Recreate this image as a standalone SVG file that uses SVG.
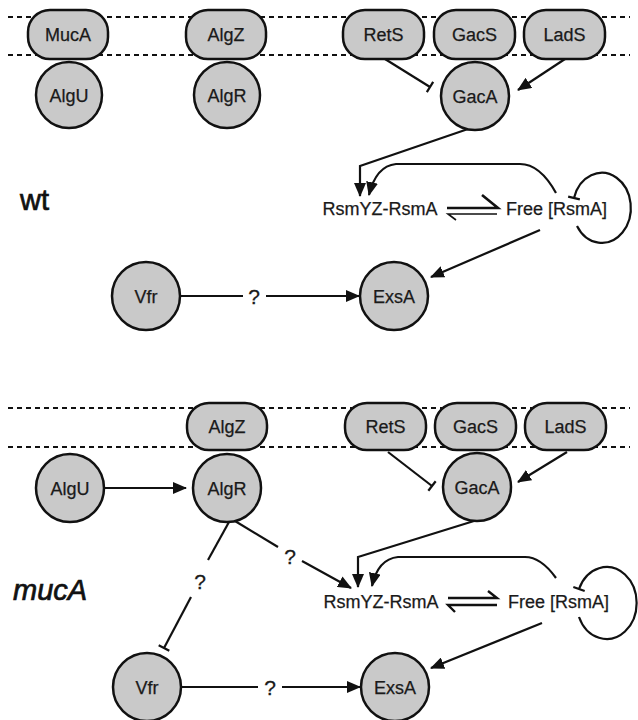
<svg xmlns="http://www.w3.org/2000/svg" width="638" height="720" viewBox="0 0 638 720">
<style>
.node{fill:#c9c9c9;stroke:#111;stroke-width:2.5}
.lbl{font-family:"Liberation Sans",Arial,sans-serif;font-size:18px;fill:#1a1a1a;stroke:#1a1a1a;stroke-width:0.25;text-anchor:middle}
.mem{fill:none;stroke:#111;stroke-width:2.2;stroke-dasharray:5 4}
.c{fill:none;stroke:#111;stroke-width:2.2}
.q{font-family:"Liberation Sans",Arial,sans-serif;font-size:21px;fill:#1a1a1a;stroke:#1a1a1a;stroke-width:0.3;text-anchor:middle}
.big{font-family:"Liberation Sans",Arial,sans-serif;font-size:29px;fill:#111;stroke:#111;stroke-width:0.7}
</style>
<defs>
<marker id="arr" markerUnits="userSpaceOnUse" markerWidth="14" markerHeight="12" viewBox="0 0 14 12" refX="13" refY="6" orient="auto">
<path d="M0,0 L14,6 L0,12 Z" fill="#111"/>
</marker>
<marker id="bar" markerUnits="userSpaceOnUse" markerWidth="4" markerHeight="14" viewBox="0 0 4 14" refX="2" refY="7" orient="auto">
<path d="M2,1 L2,13" stroke="#111" stroke-width="2.2"/>
</marker>
</defs>
<rect width="638" height="720" fill="#fff"/>

<g id="membranes">
<line class="mem" x1="8" y1="17" x2="630" y2="17"/>
<line class="mem" x1="8" y1="55" x2="630" y2="55"/>
<line class="mem" x1="8" y1="408" x2="630" y2="408"/>
<line class="mem" x1="8" y1="447" x2="630" y2="447"/>
</g>

<text class="big" x="20" y="210">wt</text>
<text class="big" x="13" y="600" font-style="italic">mucA</text>

<g id="connectors">
<line class="c" x1="385" y1="59" x2="430" y2="87" marker-end="url(#bar)"/>
<line class="c" x1="565" y1="59" x2="518" y2="90" marker-end="url(#arr)"/>
<polyline class="c" points="468,129 360,166 360,196" marker-end="url(#arr)"/>
<path class="c" d="M556,193 Q540,164 520,164 L396,164 Q376,166 369,195" marker-end="url(#arr)"/>
<path class="c" d="M577,226 A29 35 0 1 0 574,198" marker-end="url(#bar)"/>
<line class="c" x1="540" y1="230" x2="431" y2="277" marker-end="url(#arr)"/>
<line class="c" x1="180" y1="296" x2="243" y2="296"/>
<line class="c" x1="266" y1="296" x2="359" y2="296" marker-end="url(#arr)"/>
<path d="M447,208 L498,208 L482,195" fill="none" stroke="#111" stroke-width="2.6"/>
<path d="M456,220 L448,214 L497,214" fill="none" stroke="#111" stroke-width="1.6"/>
<line class="c" x1="104" y1="488" x2="186" y2="488" marker-end="url(#arr)"/>
<line class="c" x1="388" y1="452" x2="432" y2="486" marker-end="url(#bar)"/>
<line class="c" x1="567" y1="452" x2="518" y2="482" marker-end="url(#arr)"/>
<polyline class="c" points="474,521 358,557 358,587" marker-end="url(#arr)"/>
<path class="c" d="M556,578 Q541,557 525,557 L398,557 Q378,559 372,586" marker-end="url(#arr)"/>
<path class="c" d="M579,617 A30 36 0 1 0 579,589" marker-end="url(#bar)"/>
<line class="c" x1="542" y1="623" x2="431" y2="668" marker-end="url(#arr)"/>
<line class="c" x1="235" y1="521" x2="278" y2="547"/>
<line class="c" x1="302" y1="561" x2="351" y2="588" marker-end="url(#arr)"/>
<line class="c" x1="229" y1="522" x2="208" y2="560"/>
<line class="c" x1="191" y1="597" x2="164" y2="648" marker-end="url(#bar)"/>
<line class="c" x1="181" y1="687" x2="258" y2="687"/>
<line class="c" x1="282" y1="687" x2="360" y2="687" marker-end="url(#arr)"/>
<path d="M448,598 L497,598 L488,591" fill="none" stroke="#111" stroke-width="2.4"/>
<path d="M455,612 L448,605 L497,605" fill="none" stroke="#111" stroke-width="2.4"/>
<text class="q" x="254" y="304">?</text>
<text class="q" x="290" y="564">?</text>
<text class="q" x="200" y="589">?</text>
<text class="q" x="270" y="695">?</text>
</g>

<g id="top-MucA"><rect class="node" x="28" y="10" width="80" height="49" rx="22"/><text class="lbl" x="68" y="41">MucA</text></g>
<g id="top-AlgZ"><rect class="node" x="186" y="10" width="80" height="49" rx="22"/><text class="lbl" x="226" y="41">AlgZ</text></g>
<g id="top-RetS"><rect class="node" x="343" y="10" width="81" height="49" rx="22"/><text class="lbl" x="383.5" y="41">RetS</text></g>
<g id="top-GacS"><rect class="node" x="434" y="10" width="81" height="49" rx="22"/><text class="lbl" x="474.5" y="41">GacS</text></g>
<g id="top-LadS"><rect class="node" x="524" y="10" width="81" height="49" rx="22"/><text class="lbl" x="564.5" y="41">LadS</text></g>
<g id="top-AlgU"><circle class="node" cx="69" cy="95" r="33"/><text class="lbl" x="69" y="101.5">AlgU</text></g>
<g id="top-AlgR"><circle class="node" cx="227" cy="95" r="33"/><text class="lbl" x="227" y="101.5">AlgR</text></g>
<g id="top-GacA"><circle class="node" cx="475" cy="96" r="34"/><text class="lbl" x="475" y="102.5">GacA</text></g>
<g id="top-Vfr"><circle class="node" cx="146" cy="296" r="34"/><text class="lbl" x="146" y="302.5">Vfr</text></g>
<g id="top-ExsA"><circle class="node" cx="394" cy="296" r="34"/><text class="lbl" x="394" y="302.5">ExsA</text></g>
<g id="top-RsmYZ"><text class="lbl" x="380" y="215">RsmYZ-RsmA</text></g>
<g id="top-FreeRsmA"><text class="lbl" x="556.5" y="215">Free [RsmA]</text></g>

<g id="bot-AlgZ"><rect class="node" x="187" y="403" width="80" height="47" rx="22"/><text class="lbl" x="227" y="433">AlgZ</text></g>
<g id="bot-RetS"><rect class="node" x="345" y="403" width="81" height="47" rx="22"/><text class="lbl" x="385.5" y="433">RetS</text></g>
<g id="bot-GacS"><rect class="node" x="435" y="403" width="81" height="47" rx="22"/><text class="lbl" x="475.5" y="433">GacS</text></g>
<g id="bot-LadS"><rect class="node" x="525" y="403" width="81" height="47" rx="22"/><text class="lbl" x="565.5" y="433">LadS</text></g>
<g id="bot-AlgU"><circle class="node" cx="70" cy="488" r="34"/><text class="lbl" x="70" y="494.5">AlgU</text></g>
<g id="bot-AlgR"><circle class="node" cx="227" cy="488" r="34"/><text class="lbl" x="227" y="494.5">AlgR</text></g>
<g id="bot-GacA"><circle class="node" cx="477" cy="487" r="34"/><text class="lbl" x="477" y="493.5">GacA</text></g>
<g id="bot-Vfr"><circle class="node" cx="147" cy="687" r="34"/><text class="lbl" x="147" y="693.5">Vfr</text></g>
<g id="bot-ExsA"><circle class="node" cx="395" cy="687" r="34"/><text class="lbl" x="395" y="693.5">ExsA</text></g>
<g id="bot-RsmYZ"><text class="lbl" x="381" y="608">RsmYZ-RsmA</text></g>
<g id="bot-FreeRsmA"><text class="lbl" x="558.5" y="608">Free [RsmA]</text></g>
</svg>
